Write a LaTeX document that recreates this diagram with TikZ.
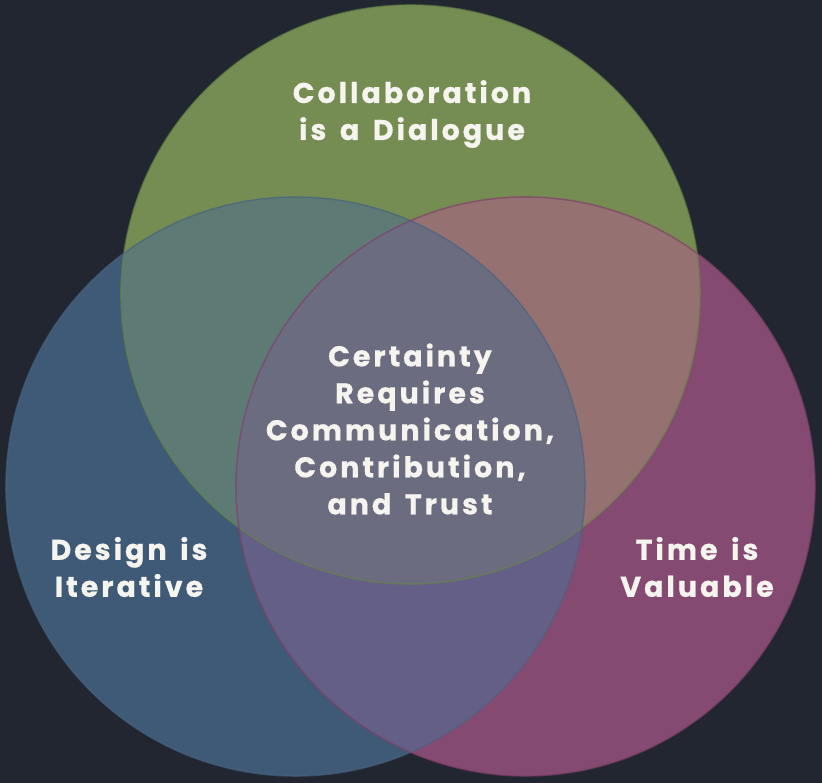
\documentclass[tikz,border=0pt]{standalone}
\usepackage{fontspec}
\newfontfamily\lblfont{Poppins}[LetterSpace=10.5,WordSpace=1.5,FakeBold=0.6]
\definecolor{bgc}{RGB}{33,38,49}
\definecolor{gonly}{RGB}{117,140,83}
\definecolor{bonly}{RGB}{63,90,118}
\definecolor{monly}{RGB}{132,74,113}
\definecolor{gbc}{RGB}{93,123,116}
\definecolor{gmc}{RGB}{150,113,113}
\definecolor{bmc}{RGB}{100,95,134}
\definecolor{gbmc}{RGB}{108,108,128}
\definecolor{gline}{RGB}{104,132,70}
\definecolor{bline}{RGB}{72,100,128}
\definecolor{mline}{RGB}{128,62,104}
\definecolor{txt}{RGB}{246,244,238}
\begin{document}
\begin{tikzpicture}[x=1pt,y=-1pt,
  lbl/.style={text=txt,align=center,inner sep=0pt,
    font=\lblfont\bfseries\fontsize{28.5}{37}\selectfont},
  rim/.style={line width=1.6pt,opacity=0.6}]
\fill[bgc] (0,0) rectangle (822,783);
\useasboundingbox (0,0) rectangle (822,783);
\coordinate (cg) at (410.5,294.5);
\coordinate (cb) at (295.5,486.5);
\coordinate (cm) at (525.5,486.5);
\def\R{289.5pt}
% single regions
\fill[gonly] (cg) circle[radius=\R];
\fill[bonly] (cb) circle[radius=\R];
\fill[monly] (cm) circle[radius=\R];
% pairwise
\begin{scope}\clip (cg) circle[radius=\R]; \fill[gbc] (cb) circle[radius=\R];\end{scope}
\begin{scope}\clip (cg) circle[radius=\R]; \fill[gmc] (cm) circle[radius=\R];\end{scope}
\begin{scope}\clip (cb) circle[radius=\R]; \fill[bmc] (cm) circle[radius=\R];\end{scope}
% triple
\begin{scope}\clip (cg) circle[radius=\R]; \clip (cb) circle[radius=\R]; \fill[gbmc] (cm) circle[radius=\R];\end{scope}
% rims
\draw[rim,gline] (cg) circle[radius=\R];
\draw[rim,bline] (cb) circle[radius=\R];
\draw[rim,mline] (cm) circle[radius=\R];
% labels
\node[lbl] (tg) at (412,114) {Collaboration\\is a Dialogue};
\node[lbl] (tc) at (410,429) {Certainty\\Requires\\Communication,\\Contribution,\\and Trust};
\node[lbl] (tb) at (129,567) {Design is\\Iterative};
\node[lbl] (tm) at (697,567) {Time is\\Valuable};
\end{tikzpicture}
\end{document}
